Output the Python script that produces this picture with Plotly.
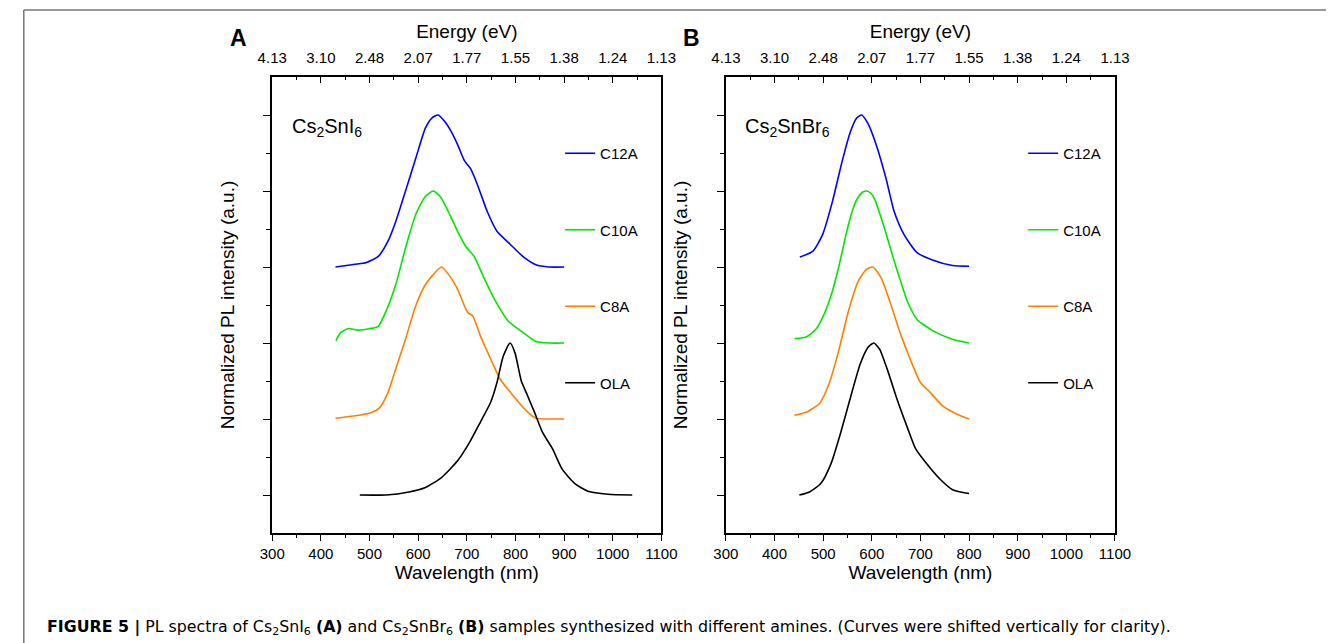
import plotly.graph_objects as go

# ---------------- data ----------------
series_names = ["C12A", "C10A", "C8A", "OLA"]
series_colors = ["#0000ff", "#00e600", "#ff8000", "#000000"]
shifts = [1.5, 1.0, 0.5, 0.0]          # vertical shift of each curve

# Panel A : Cs2SnI6  (wavelength nm, normalized PL intensity)
a_c12a_wl = [430, 464, 494, 518, 538, 554, 574, 595, 615, 628, 641, 655, 668, 681, 695, 708, 722, 742, 762, 789, 815, 842, 869, 900]
a_c12a_i  = [0.0, 0.015, 0.03, 0.07, 0.17, 0.30, 0.50, 0.715, 0.915, 0.98, 1.0, 0.955, 0.89, 0.805, 0.70, 0.645, 0.54, 0.365, 0.235, 0.15, 0.07, 0.015, 0.0, 0.0]

a_c10a_wl = [431, 441, 457, 474, 501, 518, 534, 554, 574, 595, 615, 631, 645, 665, 681, 698, 715, 735, 759, 785, 815, 842, 870, 900]
a_c10a_i  = [0.015, 0.07, 0.095, 0.085, 0.095, 0.11, 0.21, 0.385, 0.625, 0.845, 0.965, 1.0, 0.965, 0.845, 0.735, 0.635, 0.57, 0.43, 0.275, 0.145, 0.07, 0.01, 0.0, 0.0]

a_c8a_wl = [430, 467, 501, 521, 538, 554, 574, 595, 615, 631, 648, 665, 681, 695, 702, 712, 728, 749, 769, 795, 822, 842, 870, 900]
a_c8a_i  = [0.005, 0.02, 0.04, 0.075, 0.175, 0.33, 0.525, 0.745, 0.885, 0.95, 1.0, 0.94, 0.855, 0.745, 0.70, 0.68, 0.545, 0.395, 0.26, 0.155, 0.055, 0.005, 0.0, 0.0]

a_ola_wl = [480, 534, 581, 615, 648, 681, 708, 728, 749, 762, 775, 789, 799, 812, 822, 839, 856, 876, 896, 922, 949, 990, 1040]
a_ola_i  = [0.0, 0.0, 0.02, 0.05, 0.115, 0.225, 0.36, 0.48, 0.61, 0.74, 0.915, 1.0, 0.935, 0.75, 0.675, 0.545, 0.41, 0.305, 0.17, 0.075, 0.025, 0.005, 0.0]

# Panel B : Cs2SnBr6
b_c12a_wl = [452, 479, 499, 519, 539, 556, 569, 579, 592, 609, 629, 646, 666, 693, 726, 766, 800]
b_c12a_i  = [0.065, 0.105, 0.215, 0.43, 0.695, 0.89, 0.98, 1.0, 0.945, 0.805, 0.585, 0.365, 0.215, 0.095, 0.045, 0.01, 0.005]

b_c10a_wl = [441, 465, 485, 502, 517, 532, 546, 559, 570, 580, 589, 598, 606, 626, 646, 666, 673, 693, 726, 766, 800]
b_c10a_i  = [0.03, 0.04, 0.09, 0.19, 0.32, 0.50, 0.70, 0.86, 0.95, 0.99, 1.0, 0.985, 0.945, 0.755, 0.54, 0.34, 0.275, 0.155, 0.08, 0.025, 0.0]

b_c8a_wl = [441, 465, 492, 512, 532, 552, 572, 589, 602, 619, 639, 659, 680, 700, 720, 746, 773, 800]
b_c8a_i  = [0.025, 0.045, 0.10, 0.23, 0.45, 0.71, 0.905, 0.985, 1.0, 0.93, 0.755, 0.56, 0.385, 0.24, 0.175, 0.085, 0.035, 0.0]

b_ola_wl = [451, 472, 495, 516, 536, 556, 576, 592, 604, 616, 633, 653, 673, 690, 713, 740, 766, 800]
b_ola_i  = [0.0, 0.02, 0.075, 0.205, 0.41, 0.64, 0.86, 0.97, 1.0, 0.96, 0.815, 0.62, 0.445, 0.305, 0.205, 0.105, 0.035, 0.01]

# axis ticks
wl_ticks = [300, 400, 500, 600, 700, 800, 900, 1000, 1100]
energy_labels = ["4.13", "3.10", "2.48", "2.07", "1.77", "1.55", "1.38", "1.24", "1.13"]
wl_minor = [350, 450, 550, 650, 750, 850, 950, 1050]
y_major = [0, 0.5, 1.0, 1.5, 2.0, 2.5]
y_minor = [0.25, 0.75, 1.25, 1.75, 2.25]

panel_a = [(a_c12a_wl, a_c12a_i), (a_c10a_wl, a_c10a_i), (a_c8a_wl, a_c8a_i), (a_ola_wl, a_ola_i)]
panel_b = [(b_c12a_wl, b_c12a_i), (b_c10a_wl, b_c10a_i), (b_c8a_wl, b_c8a_i), (b_ola_wl, b_ola_i)]

FONT = "Liberation Sans, Arial, Helvetica, sans-serif"
W, H = 1342, 643

fig = go.Figure()

for panel, xa, ya, leg in [(panel_a, "x", "y", "legend"), (panel_b, "x2", "y2", "legend2")]:
    for k, (wl, inten) in enumerate(panel):
        fig.add_trace(go.Scatter(
            x=wl, y=[v + shifts[k] for v in inten],
            mode="lines", name=series_names[k],
            line=dict(color=series_colors[k], width=1.6, shape="spline", smoothing=0.6),
            xaxis=xa, yaxis=ya, legend=leg, legendgroup=leg + series_names[k],
            hoverinfo="skip",
        ))
    # empty trace so the top (energy) axis exists
    fig.add_trace(go.Scatter(x=[None], y=[None], xaxis="x3" if xa == "x" else "x4", yaxis=ya,
                             showlegend=False, hoverinfo="skip"))

# pixel geometry -> paper
def px(xp):
    return xp / W

def py(yp):
    return 1 - yp / H

dom_a = [px(263.3), px(661.7)]
dom_b = [px(727.7), px(1126.0)]
dom_y = [py(533), py(77)]

tickfont = dict(family=FONT, size=15, color="black")
titlefont = dict(family=FONT, size=19, color="black")

def bottom_axis(domain, anchor):
    return dict(domain=domain, anchor=anchor, range=[300, 1100], tickmode="array", tickvals=wl_ticks,
                ticks="outside", ticklen=6, tickwidth=1.3, tickcolor="black",
                minor=dict(tickvals=wl_minor, ticks="outside", ticklen=3, tickwidth=1.3, tickcolor="black"),
                showline=True, linewidth=1.5, linecolor="black", showgrid=False, zeroline=False,
                tickfont=tickfont, title=dict(text="Wavelength (nm)", font=titlefont, standoff=0))

def top_axis(over, anchor):
    return dict(overlaying=over, anchor=anchor, side="top", range=[300, 1100], tickmode="array",
                tickvals=wl_ticks, ticktext=energy_labels,
                ticks="inside", ticklen=6, tickwidth=1.3, tickcolor="black",
                minor=dict(tickvals=wl_minor, ticks="inside", ticklen=3, tickwidth=1.3, tickcolor="black"),
                showline=True, linewidth=1.5, linecolor="black", showgrid=False, zeroline=False,
                ticklabelstandoff=6,
                tickfont=tickfont, title=dict(text="Energy (eV)", font=titlefont, standoff=6))

def left_axis(anchor):
    return dict(domain=dom_y, anchor=anchor, range=[-0.25, 2.75], tickmode="array", tickvals=y_major,
                showticklabels=False, ticks="outside", ticklen=7, tickwidth=1.3, tickcolor="black",
                minor=dict(tickvals=y_minor, ticks="outside", ticklen=4, tickwidth=1.3, tickcolor="black"),
                showline=True, mirror=True, linewidth=1.5, linecolor="black", showgrid=False, zeroline=False,
                title=dict(text="Normalized PL intensity (a.u.)", font=titlefont, standoff=24))

legend_common = dict(font=dict(family=FONT, size=15, color="black"), bgcolor="rgba(0,0,0,0)",
                     tracegroupgap=54, itemwidth=30, xanchor="left", yanchor="top",
                     traceorder="grouped")

fig.update_layout(
    width=W, height=H, margin=dict(l=0, r=0, t=0, b=0),
    paper_bgcolor="white", plot_bgcolor="white",
    font=dict(family=FONT, color="black"),
    xaxis=bottom_axis(dom_a, "y"), yaxis=left_axis("x"),
    xaxis2=bottom_axis(dom_b, "y2"), yaxis2=left_axis("x2"),
    xaxis3=top_axis("x", "y"), xaxis4=top_axis("x2", "y2"),
    legend=dict(x=px(558), y=py(137), **legend_common),
    legend2=dict(x=px(1032), y=py(137), **legend_common),
    showlegend=True,
)

# panel letters, compound names
fig.add_annotation(text="<b>A</b>", x=px(229), y=py(38), xref="paper", yref="paper", showarrow=False,
                   xanchor="center", yanchor="middle", font=dict(family=FONT, size=23, color="black"))
fig.add_annotation(text="<b>B</b>", x=px(692), y=py(38), xref="paper", yref="paper", showarrow=False,
                   xanchor="center", yanchor="middle", font=dict(family=FONT, size=23, color="black"))
fig.add_annotation(text="Cs<sub>2</sub>SnI<sub>6</sub>", x=0.045, y=0.89, xref="x domain", yref="y domain",
                   xanchor="left", yanchor="middle", showarrow=False, font=dict(family=FONT, size=20, color="black"))
fig.add_annotation(text="Cs<sub>2</sub>SnBr<sub>6</sub>", x=0.045, y=0.89, xref="x2 domain", yref="y2 domain",
                   xanchor="left", yanchor="middle", showarrow=False, font=dict(family=FONT, size=20, color="black"))

# caption
fig.add_annotation(
    text="<b>FIGURE 5 |</b> PL spectra of Cs<sub>2</sub>SnI<sub>6</sub> <b>(A)</b> and Cs<sub>2</sub>SnBr<sub>6</sub> "
         "<b>(B)</b> samples synthesized with different amines. (Curves were shifted vertically for clarity).",
    x=px(31), y=py(627), xref="paper", yref="paper", xanchor="left", yanchor="middle", showarrow=False,
    font=dict(family="DejaVu Sans, sans-serif", size=15.8, color="black"))

# page frame lines
fig.add_shape(type="line", xref="paper", yref="paper", x0=px(9), x1=1, y0=py(10), y1=py(10),
              line=dict(color="#777777", width=1.5))
fig.add_shape(type="line", xref="paper", yref="paper", x0=px(9), x1=px(9), y0=0, y1=py(10),
              line=dict(color="#777777", width=1.5))

fig.write_html("out.html")
